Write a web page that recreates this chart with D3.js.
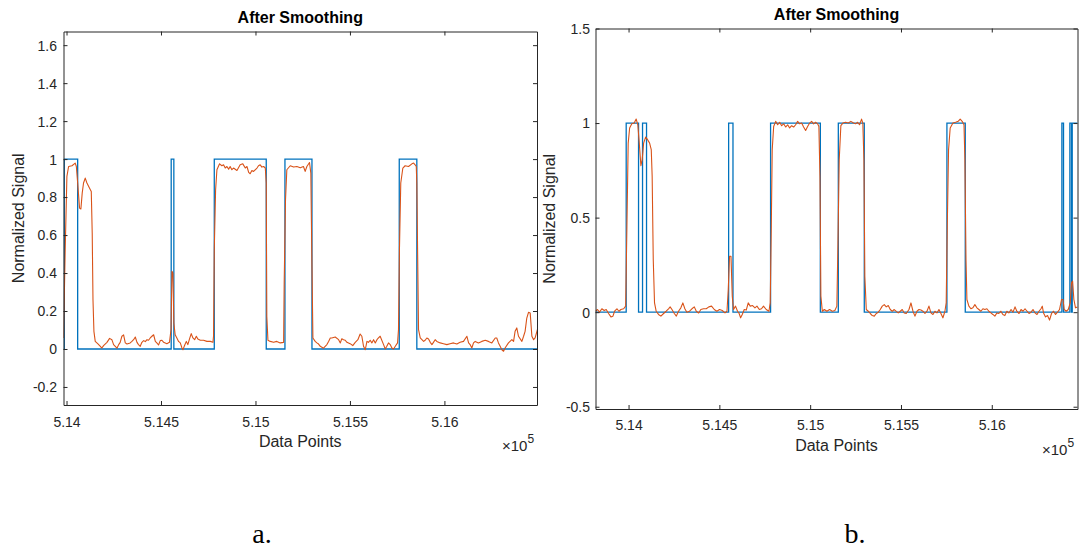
<!DOCTYPE html>
<html>
<head>
<meta charset="utf-8">
<script src="https://cdn.jsdelivr.net/npm/d3@7"></script>
<style>
  html, body { margin: 0; padding: 0; background: #fff; }
  svg { display: block; }
  text { font-family: "Liberation Sans", Arial, sans-serif; fill: #262626; }
</style>
</head>
<body>
<svg id="chart" width="1081" height="548"></svg>
<script>
// ---------------- DATA ----------------
const titleText = "After Smoothing";
const xLabelText = "Data Points";
const yLabelText = "Normalized Signal";
const panelLetters = ["a.", "b."];

const xTicks = [514000, 514500, 515000, 515500, 516000];
const xTickLabels = ["5.14", "5.145", "5.15", "5.155", "5.16"];
const yTicksA = [-0.2, 0, 0.2, 0.4, 0.6, 0.8, 1, 1.2, 1.4, 1.6];
const yTickLabelsA = ["-0.2", "0", "0.2", "0.4", "0.6", "0.8", "1", "1.2", "1.4", "1.6"];
const yTicksB = [-0.5, 0, 0.5, 1, 1.5];
const yTickLabelsB = ["-0.5", "0", "0.5", "1", "1.5"];

const xDomainA = [513984, 516490];
const yDomainA = [-0.295, 1.672];
const xDomainB = [513818, 516472];
const yDomainB = [-0.512, 1.5];

// Reference (step) signal — panel a
const stepXA = [513984, 513988, 514059, 514554, 514568, 514782, 515057, 515156, 515299, 515761, 515854, 516490];
const stepYA = [0, 1, 0, 1, 0, 1, 0, 1, 0, 1, 0, 0];

// Smoothed signal — panel a
const smoothXA = [513984, 513993, 514002, 514011, 514029, 514041, 514046, 514052, 514059, 514069, 514076, 514083, 514090, 514099, 514108, 514122, 514131, 514136, 514140, 514145,
  514152, 514165, 514179, 514187, 514196, 514214, 514228, 514240, 514249, 514258, 514267, 514276, 514284, 514293, 514302, 514311, 514320, 514337, 514346, 514355,
  514364, 514373, 514381, 514390, 514399, 514408, 514417, 514426, 514434, 514443, 514452, 514461, 514470, 514478, 514487, 514496, 514505, 514514, 514531, 514545,
  514553, 514558, 514563, 514568, 514575, 514584, 514593, 514602, 514611, 514616, 514623, 514634, 514642, 514651, 514660, 514669, 514678, 514687, 514695, 514708,
  514725, 514743, 514761, 514775, 514778, 514782, 514789, 514796, 514810, 514822, 514831, 514840, 514849, 514858, 514866, 514875, 514884, 514902, 514919, 514933,
  514946, 514955, 514964, 514972, 514981, 514990, 515008, 515016, 515025, 515034, 515043, 515052, 515057, 515060, 515066, 515078, 515096, 515113, 515131, 515149,
  515152, 515159, 515166, 515184, 515202, 515219, 515237, 515254, 515263, 515272, 515286, 515293, 515299, 515304, 515316, 515325, 515334, 515343, 515360, 515369,
  515378, 515387, 515396, 515404, 515422, 515440, 515449, 515457, 515466, 515475, 515484, 515501, 515515, 515528, 515542, 515554, 515563, 515572, 515581, 515590,
  515598, 515607, 515616, 515625, 515634, 515643, 515651, 515660, 515678, 515687, 515695, 515704, 515713, 515722, 515731, 515740, 515752, 515757, 515762, 515769,
  515780, 515792, 515810, 515828, 515837, 515845, 515851, 515854, 515858, 515863, 515872, 515881, 515890, 515898, 515907, 515916, 515925, 515934, 515942, 515951,
  515960, 515978, 515995, 516013, 516030, 516048, 516066, 516083, 516101, 516119, 516128, 516136, 516145, 516154, 516163, 516180, 516198, 516216, 516233, 516251,
  516269, 516277, 516286, 516295, 516304, 516313, 516321, 516339, 516357, 516366, 516374, 516383, 516392, 516410, 516419, 516427, 516436, 516445, 516454, 516463,
  516472, 516480, 516493];
const smoothYA = [0.058, 0.523, 0.909, 0.961, 0.965, 0.975, 0.979, 0.961, 0.874, 0.742, 0.737, 0.821, 0.874, 0.900, 0.874, 0.847, 0.830, 0.610, 0.260, 0.093,
  0.040, 0.028, 0.014, 0.005, 0.018, 0.035, 0.056, 0.049, 0.023, 0.014, 0.004, 0.023, 0.035, 0.067, 0.074, 0.032, 0.026, 0.032, 0.040, 0.049,
  0.063, 0.035, 0.023, 0.014, 0.035, 0.044, 0.039, 0.049, 0.046, 0.058, 0.067, 0.075, 0.040, 0.032, 0.021, 0.044, 0.046, 0.035, 0.028, 0.035,
  0.102, 0.409, 0.400, 0.137, 0.075, 0.058, 0.040, 0.032, 0.005, -0.004, 0.014, 0.040, 0.023, 0.053, 0.081, 0.058, 0.049, 0.067, 0.053, 0.046,
  0.046, 0.040, 0.040, 0.035, 0.067, 0.523, 0.839, 0.944, 0.975, 0.965, 0.970, 0.953, 0.961, 0.947, 0.961, 0.944, 0.953, 0.940, 0.970, 0.975,
  0.953, 0.961, 0.930, 0.923, 0.940, 0.935, 0.953, 0.965, 0.970, 0.958, 0.961, 0.953, 0.874, 0.172, 0.046, 0.040, 0.035, 0.040, 0.032, 0.035,
  0.347, 0.786, 0.944, 0.965, 0.958, 0.961, 0.954, 0.961, 0.935, 0.961, 0.982, 0.926, 0.435, 0.058, 0.040, 0.032, 0.026, 0.014, 0.004, 0.014,
  0.023, 0.040, 0.058, 0.058, 0.063, 0.049, 0.032, 0.054, 0.049, 0.046, 0.035, 0.028, 0.018, 0.035, 0.049, 0.079, 0.067, 0.014, -0.004, 0.040,
  0.035, 0.046, 0.032, 0.049, 0.032, 0.049, 0.058, 0.067, 0.023, 0.000, 0.014, 0.032, 0.023, 0.005, 0.000, 0.014, 0.032, 0.102, 0.523, 0.874,
  0.953, 0.965, 0.961, 0.975, 0.979, 0.970, 0.961, 0.874, 0.523, 0.102, 0.058, 0.049, 0.040, 0.046, 0.058, 0.053, 0.035, 0.023, 0.035, 0.049,
  0.040, 0.032, 0.028, 0.023, 0.028, 0.032, 0.026, 0.035, 0.040, 0.067, 0.032, 0.023, 0.005, 0.032, 0.040, 0.032, 0.040, 0.046, 0.040, 0.032,
  0.058, 0.058, 0.032, 0.014, -0.004, -0.012, 0.005, 0.032, 0.049, 0.040, 0.093, 0.111, 0.067, 0.040, 0.067, 0.093, 0.163, 0.193, 0.189, 0.067,
  0.049, 0.058, 0.105];

// Reference (step) signal — panel b
const stepXB = [513818, 513987, 514055, 514077, 514099, 514551, 514575, 514782, 515056, 515155, 515298, 515753, 515854, 516386, 516395, 516430, 516439, 516443, 516472];
const stepYB = [0, 1, 0, 1, 0, 1, 0, 1, 0, 1, 0, 1, 0, 1, 0, 1, 0, 1, 1];

// Smoothed signal — panel b
const smoothXB = [513818, 513829, 513840, 513853, 513866, 513877, 513890, 513903, 513914, 513923, 513936, 513947, 513958, 513973, 513984, 513991, 513998, 514006, 514018, 514031,
  514042, 514051, 514059, 514068, 514075, 514083, 514094, 514105, 514116, 514125, 514130, 514136, 514143, 514152, 514165, 514178, 514193, 514207, 514220, 514229,
  514239, 514252, 514263, 514275, 514288, 514299, 514310, 514321, 514336, 514349, 514362, 514373, 514386, 514398, 514413, 514428, 514442, 514457, 514472, 514486,
  514501, 514516, 514531, 514542, 514549, 514556, 514564, 514571, 514578, 514589, 514600, 514609, 514617, 514626, 514637, 514648, 514659, 514670, 514683, 514696,
  514707, 514720, 514732, 514743, 514758, 514773, 514780, 514786, 514791, 514799, 514810, 514821, 514832, 514843, 514854, 514865, 514876, 514887, 514898, 514909,
  514920, 514931, 514942, 514953, 514964, 514975, 514986, 514997, 515008, 515019, 515030, 515041, 515048, 515054, 515059, 515067, 515078, 515092, 515107, 515122,
  515136, 515147, 515153, 515160, 515169, 515180, 515195, 515210, 515224, 515239, 515250, 515261, 515272, 515283, 515290, 515296, 515301, 515309, 515320, 515331,
  515342, 515353, 515364, 515375, 515386, 515397, 515408, 515419, 515430, 515441, 515452, 515463, 515474, 515485, 515496, 515507, 515518, 515529, 515544, 515555,
  515566, 515577, 515588, 515599, 515610, 515621, 515632, 515643, 515654, 515665, 515676, 515687, 515698, 515709, 515720, 515731, 515742, 515749, 515755, 515762,
  515771, 515786, 515801, 515815, 515826, 515837, 515847, 515852, 515858, 515863, 515874, 515885, 515896, 515907, 515918, 515929, 515940, 515951, 515962, 515973,
  515984, 515995, 516006, 516017, 516028, 516039, 516050, 516061, 516072, 516083, 516094, 516106, 516117, 516128, 516138, 516150, 516161, 516172, 516183, 516194,
  516205, 516216, 516227, 516238, 516249, 516260, 516271, 516278, 516285, 516296, 516307, 516318, 516329, 516340, 516351, 516362, 516373, 516384, 516392, 516399,
  516410, 516421, 516432, 516439, 516445, 516452, 516461, 516472];
const smoothYB = [0.005, 0.014, 0.000, 0.018, 0.009, 0.014, -0.007, -0.025, -0.021, 0.005, 0.018, 0.005, 0.014, 0.018, 0.032, 0.454, 0.894, 0.974, 0.996, 1.000,
  1.021, 0.991, 0.894, 0.775, 0.806, 0.894, 0.926, 0.912, 0.894, 0.859, 0.718, 0.278, 0.049, 0.005, -0.012, -0.021, -0.007, 0.005, 0.018, 0.028,
  0.014, -0.007, -0.021, 0.005, 0.023, 0.049, 0.018, 0.000, 0.005, 0.018, 0.028, 0.005, -0.004, 0.014, 0.018, 0.018, 0.028, 0.032, 0.014, 0.005,
  0.014, 0.009, -0.004, 0.005, 0.120, 0.296, 0.296, 0.085, 0.014, 0.032, 0.005, -0.007, -0.030, -0.012, 0.014, 0.011, 0.049, 0.032, 0.035, 0.023,
  0.032, 0.014, 0.018, 0.032, 0.014, 0.005, 0.049, 0.454, 0.859, 0.982, 1.009, 0.991, 1.004, 0.986, 0.996, 0.979, 0.991, 0.974, 0.986, 0.979,
  0.991, 1.009, 0.996, 1.000, 0.979, 0.961, 0.982, 1.000, 1.009, 0.996, 1.004, 0.996, 0.982, 0.718, 0.085, 0.005, 0.014, 0.005, 0.014, 0.005,
  0.009, 0.032, 0.366, 0.806, 0.986, 1.000, 1.004, 1.000, 1.009, 1.000, 0.996, 1.004, 0.991, 1.021, 1.000, 0.806, 0.190, 0.014, 0.005, -0.007,
  -0.018, -0.021, -0.007, 0.000, 0.014, 0.032, 0.040, 0.028, 0.035, 0.014, 0.005, 0.014, 0.004, -0.004, 0.005, 0.014, -0.004, -0.007, 0.014, 0.049,
  0.005, -0.021, 0.005, 0.014, 0.011, 0.005, -0.007, 0.005, 0.032, -0.004, -0.012, 0.005, -0.004, 0.014, -0.007, -0.030, 0.005, 0.049, 0.454, 0.859,
  0.974, 1.000, 1.004, 1.009, 1.021, 1.009, 0.991, 0.806, 0.278, 0.067, 0.032, 0.018, 0.023, 0.040, 0.023, 0.014, 0.005, 0.018, 0.014, 0.018,
  0.005, -0.004, -0.012, -0.021, -0.004, -0.007, 0.005, -0.012, -0.018, 0.005, -0.004, 0.014, 0.000, 0.028, 0.005, -0.007, 0.014, 0.005, 0.018, 0.005,
  -0.007, 0.000, 0.014, -0.004, -0.012, 0.005, 0.018, 0.032, -0.004, -0.025, -0.018, -0.042, -0.007, 0.005, -0.012, 0.000, 0.014, 0.067, 0.067, 0.014,
  0.005, 0.014, 0.049, 0.155, 0.164, 0.067, 0.023, 0.028];

// ---------------- DRAW ----------------
const svg = d3.select("#chart");
const AX = "#262626";
const BLUE = "#0072BD";
const ORANGE = "#D95319";

const panels = [
  { id: "a", box: { l: 63.5, t: 31.5, r: 537, b: 405 }, xDomain: xDomainA, yDomain: yDomainA,
    yTicks: yTicksA, yTickLabels: yTickLabelsA, stepX: stepXA, stepY: stepYA, smX: smoothXA, smY: smoothYA,
    titleY: 23, xTickY: 427, xLabY: 447, yLabX: 24, yTickX: 57, expX: 502, expY: 451, letter: panelLetters[0], letterX: 262 },
  { id: "b", box: { l: 595.5, t: 28.5, r: 1077.5, b: 409 }, xDomain: xDomainB, yDomain: yDomainB,
    yTicks: yTicksB, yTickLabels: yTickLabelsB, stepX: stepXB, stepY: stepYB, smX: smoothXB, smY: smoothYB,
    titleY: 20, xTickY: 430, xLabY: 451, yLabX: 555, yTickX: 590, expX: 1042, expY: 455, letter: panelLetters[1], letterX: 855 }
];

panels.forEach(p => {
  const { l, t, r, b } = p.box;
  const x = d3.scaleLinear().domain(p.xDomain).range([l, r]);
  const y = d3.scaleLinear().domain(p.yDomain).range([b, t]);
  const g = svg.append("g");

  g.append("clipPath").attr("id", "clip-" + p.id)
    .append("rect").attr("x", l).attr("y", t).attr("width", r - l).attr("height", b - t);

  const plot = g.append("g").attr("clip-path", `url(#clip-${p.id})`);

  const stepData = p.stepX.map((v, i) => [v, p.stepY[i]]);
  const stepLine = d3.line().x(d => x(d[0])).y(d => y(d[1])).curve(d3.curveStepAfter);
  plot.append("path").datum(stepData).attr("d", stepLine)
    .attr("fill", "none").attr("stroke", BLUE).attr("stroke-width", 1.3);

  const smData = p.smX.map((v, i) => [v, p.smY[i]]);
  const smLine = d3.line().x(d => x(d[0])).y(d => y(d[1]));
  plot.append("path").datum(smData).attr("d", smLine)
    .attr("fill", "none").attr("stroke", ORANGE).attr("stroke-width", 1.1).attr("stroke-linejoin", "round");

  // Axes (MATLAB style: ticks inward on all sides)
  const tl = 4;
  const bottom = d3.axisBottom(x).tickValues(xTicks).tickSizeInner(-tl).tickSizeOuter(0)
    .tickFormat((d, i) => xTickLabels[i]);
  const top = d3.axisTop(x).tickValues(xTicks).tickSizeInner(-tl).tickSizeOuter(0).tickFormat("");
  const left = d3.axisLeft(y).tickValues(p.yTicks).tickSizeInner(-tl).tickSizeOuter(0)
    .tickFormat((d, i) => p.yTickLabels[i]);
  const right = d3.axisRight(y).tickValues(p.yTicks).tickSizeInner(-tl).tickSizeOuter(0).tickFormat("");

  const gb = g.append("g").attr("transform", `translate(0,${b})`).call(bottom);
  const gt = g.append("g").attr("transform", `translate(0,${t})`).call(top);
  const gl = g.append("g").attr("transform", `translate(${l},0)`).call(left);
  const gr = g.append("g").attr("transform", `translate(${r},0)`).call(right);
  [gb, gt, gl, gr].forEach(a => {
    a.select(".domain").attr("stroke", AX).attr("stroke-width", 1);
    a.selectAll(".tick line").attr("stroke", AX).attr("stroke-width", 1);
    a.selectAll("text").attr("font-family", "Liberation Sans, Arial, sans-serif")
      .attr("font-size", 14).attr("fill", AX);
  });
  gb.selectAll(".tick text").attr("y", p.xTickY - b).attr("dy", 0);
  gl.selectAll(".tick text").attr("x", p.yTickX - l).attr("dy", "0.35em");

  // Title
  g.append("text").attr("x", (l + r) / 2).attr("y", p.titleY).attr("text-anchor", "middle")
    .attr("font-size", 16).attr("font-weight", "bold").style("fill", "#000").text(titleText);

  // X label
  g.append("text").attr("x", (l + r) / 2).attr("y", p.xLabY).attr("text-anchor", "middle")
    .attr("font-size", 16).text(xLabelText);

  // Y label
  g.append("text").attr("transform", `translate(${p.yLabX},${(t + b) / 2}) rotate(-90)`)
    .attr("text-anchor", "middle").attr("font-size", 16).text(yLabelText);

  // Exponent ×10^5
  const ex = g.append("text").attr("x", p.expX).attr("y", p.expY).attr("font-size", 15);
  ex.append("tspan").text("\u00d710");
  ex.append("tspan").attr("dy", -8).attr("font-size", 12).text("5");

  // Panel letter
  svg.append("text").attr("x", p.letterX).attr("y", 543).attr("text-anchor", "middle")
    .style("font-family", "'Liberation Serif', 'Times New Roman', serif")
    .attr("font-size", 28).style("fill", "#000").text(p.letter);
});
</script>
</body>
</html>
